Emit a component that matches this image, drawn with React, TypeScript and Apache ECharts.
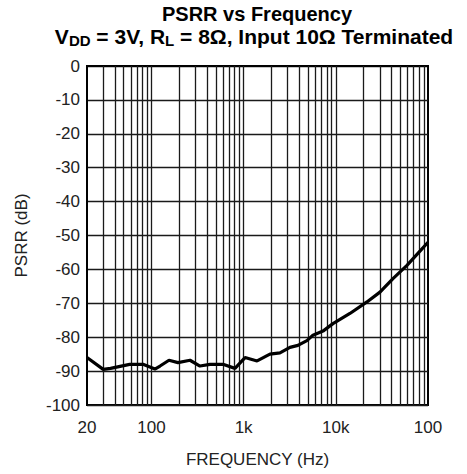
import React, { useEffect, useRef } from "react";
import * as echarts from "echarts";

const freqHz = [20, 30, 36, 58, 81, 109, 124, 155, 194, 262, 336, 432, 597, 806, 1035, 1400, 1930, 2480, 3180, 3880, 4860, 5650, 7260, 9310, 14230, 21760, 30120, 41690, 59120, 81800, 100000];
const psrrDb = [-86, -89.5, -89.2, -88, -88, -89.4, -88.5, -86.8, -87.5, -86.8, -88.5, -88, -88, -89.2, -86, -87, -85, -84.6, -83, -82.4, -81, -79.4, -78.2, -76, -73, -69.6, -66.7, -62.7, -58.8, -54.6, -52];
const gridFreqs = [30, 40, 50, 60, 70, 80, 90, 100, 200, 300, 400, 500, 600, 700, 800, 900, 1000, 2000, 3000, 4000, 5000, 6000, 7000, 8000, 9000, 10000, 20000, 30000, 40000, 50000, 60000, 70000, 80000, 90000];
const xTickLabels: Record<number, string> = { 20: "20", 100: "100", 1000: "1k", 10000: "10k", 100000: "100" };

const FONT = "'Liberation Sans', Arial, sans-serif";

export default function App() {
  const ref = useRef<HTMLDivElement>(null);
  useEffect(() => {
    if (!ref.current) return;
    const chart = echarts.init(ref.current, undefined, { renderer: "svg" });
    chart.setOption({
      animation: false,
      backgroundColor: "#fff",
      title: [
        {
          text: "PSRR vs Frequency",
          left: 252,
          textAlign: "center",
          top: 1,
          textStyle: { fontFamily: FONT, fontWeight: "bold", fontSize: 20, lineHeight: 16, color: "#000" },
        },
        {
          text: "{n|V}{s|DD}{n| = 3V, R}{s|L}{n| = 8Ω, Input 10Ω Terminated}",
          left: 249,
          textAlign: "center",
          top: 21,
          textStyle: {
            fontFamily: FONT,
            rich: {
              n: { fontFamily: FONT, fontWeight: "bold", fontSize: 21, color: "#000", lineHeight: 22, verticalAlign: "top" },
              s: { fontFamily: FONT, fontWeight: "bold", fontSize: 15, color: "#000", lineHeight: 14, verticalAlign: "bottom" },
            },
          },
        },
      ],
      grid: { left: 87, right: 39, top: 66, bottom: 69, show: true, borderColor: "#000", borderWidth: 2, backgroundColor: "transparent" },
      xAxis: {
        type: "log",
        logBase: 10,
        min: 20,
        max: 100000,
        name: "FREQUENCY (Hz)",
        nameLocation: "middle",
        nameGap: 46,
        nameTextStyle: { fontFamily: FONT, fontSize: 17, color: "#222" },
        axisLine: { show: true, lineStyle: { color: "#000", width: 2 } },
        axisTick: { show: false },
        splitLine: { show: false },
        axisLabel: {
          fontFamily: FONT,
          fontSize: 17,
          color: "#222",
          margin: 14,
          showMinLabel: true,
          showMaxLabel: true,
          formatter: (v: number) => {
            const r = Math.round(v);
            return xTickLabels[r] ?? "";
          },
        },
      },
      yAxis: {
        type: "value",
        min: -100,
        max: 0,
        interval: 10,
        name: "PSRR (dB)",
        nameLocation: "middle",
        nameGap: 57,
        nameTextStyle: { fontFamily: FONT, fontSize: 17, color: "#222" },
        axisLine: { show: true, lineStyle: { color: "#000", width: 2 } },
        axisTick: { show: false },
        axisLabel: { fontFamily: FONT, fontSize: 17, color: "#222", margin: 7 },
        splitLine: { show: true, lineStyle: { color: "#1a1a1a", width: 1.3 } },
      },
      series: [
        {
          type: "line",
          data: freqHz.map((f, i) => [f, psrrDb[i]]),
          symbol: "none",
          lineStyle: { color: "#000", width: 3.2 },
          z: 5,
          markLine: {
            silent: true,
            symbol: "none",
            label: { show: false },
            lineStyle: { color: "#1a1a1a", width: 1.3, type: "solid" },
            data: gridFreqs.map((f) => ({ xAxis: f })),
          },
        },
      ],
    });
    return () => chart.dispose();
  }, []);
  return <div ref={ref} style={{ position: "fixed", left: 0, top: 0, width: 467, height: 474 }} />;
}
